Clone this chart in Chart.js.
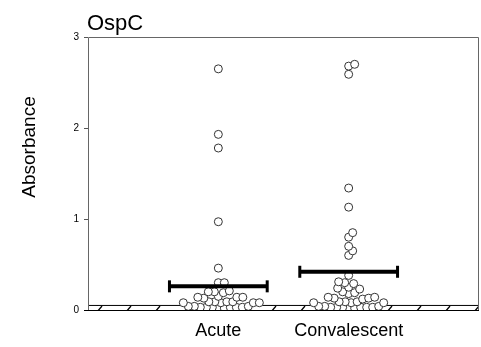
<!DOCTYPE html>
<html>
<head>
<meta charset="utf-8">
<script src="https://cdn.jsdelivr.net/npm/chart.js@4/dist/chart.umd.min.js"></script>
<style>
  html, body { margin: 0; padding: 0; background: #fff; }
  #wrap { width: 481px; height: 347px; }
</style>
</head>
<body>
<div id="wrap"><canvas id="chart"></canvas></div>
<script>
// values
const groups = ["Acute", "Convalescent"];
const acute = [2.65, 1.93, 1.78, 0.97, 0.46, 0.30, 0.30, 0.21, 0.20, 0.20, 0.19,
  0.15, 0.14, 0.14, 0.13, 0.14, 0.09, 0.08, 0.09, 0.08, 0.09, 0.08, 0.09, 0.08,
  0.04, 0.03, 0.03, 0.04, 0.02, 0.03, 0.04, 0.03, 0.03, 0.02, 0.03];
const convalescent = [2.70, 2.68, 2.59, 1.34, 1.13, 0.85, 0.80, 0.70, 0.65, 0.60, 0.38,
  0.30, 0.29, 0.31, 0.24, 0.25, 0.23, 0.19, 0.18, 0.20, 0.13, 0.14, 0.12, 0.14, 0.13,
  0.09, 0.08, 0.09, 0.08, 0.09, 0.08, 0.03, 0.04, 0.03, 0.02, 0.03, 0.04, 0.03, 0.03,
  0.02, 0.04, 0.03];
const means = [0.26, 0.42];
const cutoff = 0.05;
const yTicks = [0, 1, 2, 3];

const FONT = "'Liberation Sans', Arial, sans-serif";

// rough pixel size of one unit, only used to spread the dots sideways
const PX_X = 130.3, PX_Y = 91;
const DOT = 6;

function swarm(vals, cx) {
  const placed = [];
  return vals.slice().sort((a, b) => a - b).map(v => {
    const py = v * PX_Y;
    let off = 0;
    search:
    for (let s = 0; s < 300; s += 0.5) {
      for (const c of (s === 0 ? [0] : [s, -s])) {
        if (placed.every(p => (p.px - c) ** 2 + (p.py - py) ** 2 >= DOT * DOT)) {
          off = c;
          break search;
        }
      }
    }
    placed.push({ px: off, py: py });
    return { x: cx + off / PX_X, y: v };
  });
}

// hatched band for the cutoff
function hatch() {
  const c = document.createElement("canvas");
  c.width = 29; c.height = 6;
  const g = c.getContext("2d");
  g.fillStyle = "#fff";
  g.fillRect(0, 0, 29, 6);
  g.strokeStyle = "#000";
  g.lineWidth = 1.3;
  g.beginPath();
  g.moveTo(10, 6);
  g.lineTo(15, 0);
  g.stroke();
  return g.createPattern(c, "repeat");
}

const dotStyle = {
  type: "scatter",
  pointStyle: "circle",
  pointRadius: 4,
  pointBackgroundColor: "#fff",
  pointBorderColor: "#333",
  pointBorderWidth: 1,
  order: 2
};

const meanSets = means.map((m, i) => ({
  type: "line",
  data: [{ x: i + 1 - 0.375, y: m }, { x: i + 1 + 0.375, y: m }],
  borderColor: "#000",
  borderWidth: 4,
  pointStyle: "line",
  rotation: 90,
  pointRadius: 6,
  pointBorderWidth: 3,
  pointBorderColor: "#000",
  order: 1
}));

const textPlugin = {
  id: "texts",
  afterDraw(chart) {
    const ctx = chart.ctx;
    const a = chart.chartArea;
    ctx.save();
    // frame
    ctx.strokeStyle = "#666";
    ctx.lineWidth = 1;
    ctx.beginPath();
    ctx.moveTo(a.left + 0.5, a.bottom);
    ctx.lineTo(a.left + 0.5, a.top + 0.5);
    ctx.lineTo(a.right - 0.5, a.top + 0.5);
    ctx.lineTo(a.right - 0.5, a.bottom);
    ctx.stroke();
    ctx.strokeStyle = "#000";
    ctx.beginPath();
    ctx.moveTo(a.left - 4, a.bottom + 0.5);
    ctx.lineTo(a.right, a.bottom + 0.5);
    ctx.stroke();
    // title
    ctx.fillStyle = "#000";
    ctx.font = "22px " + FONT;
    ctx.textAlign = "left";
    ctx.textBaseline = "alphabetic";
    ctx.fillText("OspC", 87, 30);
    // y title
    ctx.translate(35, 147);
    ctx.rotate(-Math.PI / 2);
    ctx.font = "19px " + FONT;
    ctx.textAlign = "center";
    ctx.fillText("Absorbance", 0, 0);
    ctx.restore();
  }
};

new Chart(document.getElementById("chart"), {
  type: "scatter",
  data: {
    datasets: [
      { ...dotStyle, data: swarm(acute, 1) },
      { ...dotStyle, data: swarm(convalescent, 2) },
      ...meanSets,
      {
        type: "line",
        data: [{ x: 0, y: cutoff }, { x: 3, y: cutoff }],
        borderColor: "#000",
        borderWidth: 1,
        pointRadius: 0,
        backgroundColor: hatch(),
        fill: "origin",
        order: 3
      }
    ]
  },
  options: {
    responsive: true,
    maintainAspectRatio: false,
    animation: false,
    layout: { autoPadding: false, padding: { top: 37, right: 2, left: 0, bottom: 0 } },
    plugins: { legend: { display: false }, tooltip: { enabled: false } },
    scales: {
      x: {
        type: "linear",
        min: 0,
        max: 3,
        afterFit: s => { s.height = 37; },
        afterBuildTicks: s => { s.ticks = groups.map((g, i) => ({ value: i + 1 })); },
        grid: { display: false },
        border: { display: false },
        ticks: {
          padding: 2,
          color: "#000",
          font: { family: FONT, size: 18 },
          callback: v => groups[v - 1]
        }
      },
      y: {
        min: 0,
        max: 3,
        afterFit: s => { s.width = 88; },
        afterBuildTicks: s => { s.ticks = yTicks.map(v => ({ value: v })); },
        grid: { display: true, drawOnChartArea: false, tickLength: 4, color: "#555" },
        border: { display: false },
        ticks: {
          padding: 5,
          color: "#000",
          font: { family: FONT, size: 10 }
        }
      }
    }
  },
  plugins: [textPlugin]
});
</script>
</body>
</html>
